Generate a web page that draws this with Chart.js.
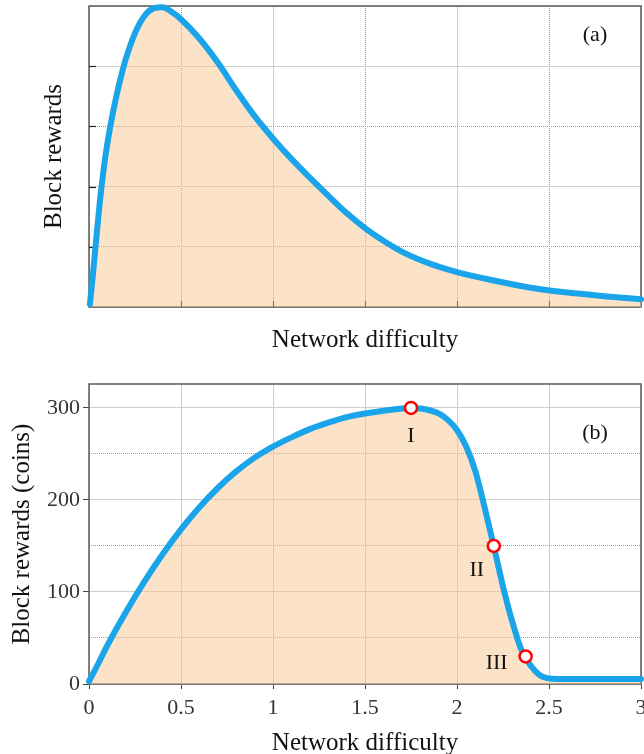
<!DOCTYPE html>
<html><head><meta charset="utf-8">
<script src="https://cdn.jsdelivr.net/npm/chart.js@4"></script>
<style>
html,body{margin:0;padding:0;background:#fff;overflow:hidden;width:644px;height:754px;}
#wa{position:absolute;left:0;top:0;width:644px;height:370px;}
#wb{position:absolute;left:0;top:370px;width:644px;height:384px;}
</style></head><body>
<div id="wa"><canvas id="ca"></canvas></div>
<div id="wb"><canvas id="cb"></canvas></div>
<script>
// ---- data ----
const xTickValues = [0, 0.5, 1, 1.5, 2, 2.5, 3];
const xTickLabels = ['0', '0.5', '1', '1.5', '2', '2.5', '3'];
const yTickValuesB = [0, 100, 200, 300];
const yTickLabelsB = ['0', '100', '200', '300'];

const difficultyA = [0.005, 0.02, 0.04, 0.06, 0.08, 0.1, 0.125, 0.15, 0.175, 0.2, 0.25, 0.3, 0.35, 0.4, 0.45, 0.5, 0.6, 0.7, 0.8, 0.9, 1.0, 1.1, 1.2, 1.3, 1.4, 1.5, 1.6, 1.7, 1.8, 1.9, 2.0, 2.2, 2.4, 2.6, 2.8, 3.0];
const rewardsA = [0.05, 0.5, 1.15, 1.78, 2.3, 2.72, 3.15, 3.52, 3.84, 4.12, 4.55, 4.83, 4.96, 4.98, 4.9, 4.78, 4.46, 4.06, 3.60, 3.17, 2.80, 2.46, 2.15, 1.85, 1.56, 1.31, 1.10, 0.92, 0.78, 0.67, 0.58, 0.44, 0.32, 0.24, 0.18, 0.13];

const difficultyB = [0, 0.05, 0.1, 0.2, 0.3, 0.4, 0.5, 0.6, 0.7, 0.8, 0.9, 1.0, 1.1, 1.2, 1.3, 1.4, 1.5, 1.6, 1.7, 1.75, 1.8, 1.85, 1.9, 1.95, 2.0, 2.05, 2.1, 2.15, 2.2, 2.25, 2.3, 2.35, 2.4, 2.45, 2.5, 2.55, 2.6, 3.0];
const rewardsB = [3, 22, 42, 78, 111, 141, 168, 192, 213, 231, 246, 258, 268, 277, 284, 290, 294, 297, 299.3, 300, 299.3, 297.5, 294, 287, 276, 258, 231, 192, 150, 106, 68, 37, 20, 9.5, 6, 5.5, 5.5, 5.5];

const markX = [1.75, 2.2, 2.373];
const markY = [300, 150, 30];
const markLabels = ['I', 'II', 'III'];

// ---- styles ----
const FONT = "'Liberation Serif','Times New Roman',serif";
const LINE = '#1aa4ea';
const FILL = 'rgba(250,200,146,0.5)';
const MAJOR = '#cdcdcd';
const MINOR = '#9a9a9a';
const FRAME = '#5a5a5a';

const isHalf = v => Math.abs(v - Math.round(v)) > 1e-6;
const isOdd = v => Math.round(v) % 2 === 1;
const isMinorB = v => Math.round(v) % 100 !== 0;

function fixFit(h, w) {
  return a => {
    if (h !== undefined) a.height = h;
    if (w !== undefined) a.width = w;
    a.paddingLeft = 0; a.paddingRight = 0; a.paddingTop = 0; a.paddingBottom = 0;
  };
}

function framePlugin(innerTicks) {
  return {
    id: 'frame',
    beforeDatasetsDraw(chart) {
      const {ctx, chartArea: ca, scales} = chart;
      ctx.save();
      ctx.strokeStyle = FRAME;
      ctx.lineWidth = 1.5;
      ctx.strokeRect(ca.left, ca.top, ca.right - ca.left, ca.bottom - ca.top);
      if (innerTicks) {
        ctx.strokeStyle = '#222';
        ctx.lineWidth = 1.2;
        scales.x.ticks.forEach(t => {
          if (t.value <= scales.x.min || t.value >= scales.x.max) return;
          const px = Math.round(scales.x.getPixelForValue(t.value)) + 0.5;
          ctx.beginPath(); ctx.moveTo(px, ca.bottom); ctx.lineTo(px, ca.bottom - 6); ctx.stroke();
        });
        scales.y.ticks.forEach(t => {
          if (t.value <= scales.y.min || t.value >= scales.y.max) return;
          const py = Math.round(scales.y.getPixelForValue(t.value)) + 0.5;
          ctx.beginPath(); ctx.moveTo(ca.left, py); ctx.lineTo(ca.left + 7, py); ctx.stroke();
        });
      }
      ctx.restore();
    }
  };
}

function textPlugin(panelText, pdx, pdy, withMarks) {
  const offs = [[0, 28], [-17, 24], [-29, 7]];
  return {
    id: 'texts',
    afterDraw(chart) {
      const {ctx, chartArea: ca, scales} = chart;
      ctx.save();
      ctx.fillStyle = '#111';
      ctx.font = '22px ' + FONT;
      ctx.textAlign = 'center';
      ctx.textBaseline = 'middle';
      ctx.fillText(panelText, ca.right + pdx, ca.top + pdy);
      if (withMarks) {
        markLabels.forEach((lab, i) => {
          const px = scales.x.getPixelForValue(markX[i]);
          const py = scales.y.getPixelForValue(markY[i]);
          ctx.fillText(lab, px + offs[i][0], py + offs[i][1]);
        });
      }
      ctx.restore();
    }
  };
}

// ---- chart (a) ----
new Chart(document.getElementById('ca'), {
  type: 'line',
  data: {
    datasets: [{
      data: difficultyA.map((x, i) => ({x: x, y: rewardsA[i]})),
      borderColor: LINE, borderWidth: 6, backgroundColor: FILL, fill: 'origin',
      pointRadius: 0, cubicInterpolationMode: 'monotone', clip: false,
      borderCapStyle: 'round', borderJoinStyle: 'round'
    }]
  },
  options: {
    responsive: true, maintainAspectRatio: false, animation: false,
    layout: {padding: {top: 6, right: 3, left: 0, bottom: 0}, autoPadding: false},
    plugins: {legend: {display: false}, tooltip: {enabled: false}},
    scales: {
      x: {
        type: 'linear', min: 0, max: 3,
        ticks: {stepSize: 0.5, display: false},
        grid: {drawTicks: false, lineWidth: 1, color: c => (c.tick && isHalf(c.tick.value)) ? MINOR : MAJOR},
        border: {display: false, dash: c => (c.tick && isHalf(c.tick.value)) ? [1, 1] : []},
        title: {display: true, text: 'Network difficulty', color: '#111',
                font: {family: FONT, size: 25, lineHeight: 0.8}, padding: {top: 0, bottom: 19.5}},
        afterFit: fixFit(63, undefined)
      },
      y: {
        type: 'linear', min: 0, max: 5,
        ticks: {stepSize: 1, display: false},
        grid: {drawTicks: false, lineWidth: 1, color: c => (c.tick && isOdd(c.tick.value)) ? MINOR : MAJOR},
        border: {display: false, dash: c => (c.tick && isOdd(c.tick.value)) ? [1, 1] : []},
        title: {display: true, text: 'Block rewards', color: '#111',
                font: {family: FONT, size: 25, lineHeight: 1.2}, padding: {top: 39, bottom: 0}},
        afterFit: fixFit(undefined, 89)
      }
    }
  },
  plugins: [framePlugin(true), textPlugin('(a)', -46, 29, false)]
});

// ---- chart (b) ----
new Chart(document.getElementById('cb'), {
  type: 'line',
  data: {
    datasets: [{
      data: markX.map((x, i) => ({x: x, y: markY[i]})),
      showLine: false, pointRadius: 6, pointBorderWidth: 2.5,
      pointBorderColor: '#ff0000', pointBackgroundColor: '#ffffff', order: 0, clip: false
    }, {
      data: difficultyB.map((x, i) => ({x: x, y: rewardsB[i]})),
      borderColor: LINE, borderWidth: 6, backgroundColor: FILL, fill: 'origin',
      pointRadius: 0, cubicInterpolationMode: 'monotone', clip: false, order: 1,
      borderCapStyle: 'round', borderJoinStyle: 'round'
    }]
  },
  options: {
    responsive: true, maintainAspectRatio: false, animation: false,
    layout: {padding: {top: 14, right: 3, left: 0, bottom: 0}, autoPadding: false},
    plugins: {legend: {display: false}, tooltip: {enabled: false}},
    scales: {
      x: {
        type: 'linear', min: 0, max: 3,
        ticks: {
          stepSize: 0.5, autoSkip: false, maxRotation: 0, padding: 6, color: '#333',
          font: {family: FONT, size: 22},
          callback: v => { const i = xTickValues.findIndex(t => Math.abs(t - v) < 1e-9); return i >= 0 ? xTickLabels[i] : ''; }
        },
        grid: {lineWidth: 1, color: MAJOR, tickColor: '#444', tickLength: 5, tickWidth: 1},
        border: {display: false},
        title: {display: true, text: 'Network difficulty', color: '#111',
                font: {family: FONT, size: 25, lineHeight: 0.8}, padding: {top: 0, bottom: 1}},
        afterFit: fixFit(70, undefined)
      },
      y: {
        type: 'linear', min: 0, max: 326,
        ticks: {
          stepSize: 50, autoSkip: false, includeBounds: false, padding: 3, color: '#333',
          font: {family: FONT, size: 22},
          callback: v => { const i = yTickValuesB.indexOf(v); return i >= 0 ? yTickLabelsB[i] : ''; }
        },
        grid: {lineWidth: 1, tickLength: 6, tickWidth: 1,
               color: c => (c.tick && isMinorB(c.tick.value)) ? MINOR : MAJOR,
               tickColor: c => (c.tick && isMinorB(c.tick.value)) ? 'rgba(0,0,0,0)' : '#444'},
        border: {display: false, dash: c => (c.tick && isMinorB(c.tick.value)) ? [1, 1] : []},
        title: {display: true, text: 'Block rewards (coins)', color: '#111',
                font: {family: FONT, size: 25, lineHeight: 1.2}, padding: {top: 7, bottom: 0}},
        afterFit: fixFit(undefined, 89)
      }
    }
  },
  plugins: [framePlugin(false), textPlugin('(b)', -46, 49, true)]
});
</script>
</body></html>
